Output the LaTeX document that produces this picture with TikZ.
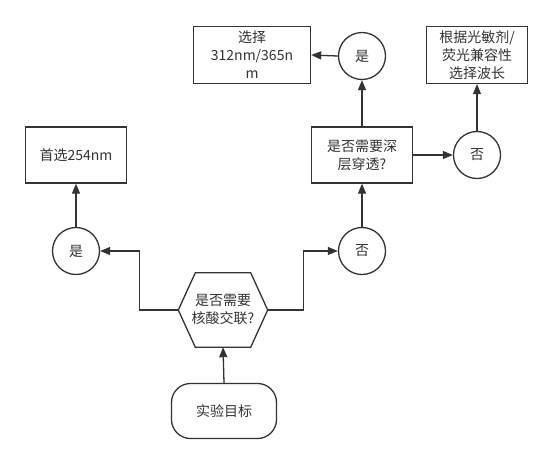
\documentclass[tikz,border=0pt]{standalone}
\usepackage{fontspec}
\newfontfamily\cjk{Noto Sans CJK SC}
\usepackage{tikz}
\usetikzlibrary{calc, positioning, arrows.meta}
\usepackage{xcolor}
\definecolor{ink}{RGB}{51, 51, 51}

\begin{document}
\begin{tikzpicture}[x=1pt, y=-1pt,
  every node/.style={font=\cjk\fontsize{14}{18}\selectfont, text=ink, align=center},
  box/.style={draw=ink, line width=1.3pt, minimum width=101pt, minimum height=56pt, inner sep=2pt},
  answer/.style={draw=ink, circle, line width=1.3pt, minimum size=47pt, inner sep=0pt},
  link/.style={draw=ink, line width=1.3pt, -{Triangle[length=10pt, width=8pt]}}]
  \useasboundingbox (0,0) rectangle (554,464);

  % --- start and first question ---
  \node[draw=ink, line width=1.3pt, rounded corners=19pt, minimum width=105pt, minimum height=55pt] (goal) at (224,411) {实验目标};
  \node[minimum width=89pt, minimum height=74pt] (crosslink) at (223,310) {是否需要\\核酸交联?};
  \draw[ink, line width=1.3pt] (crosslink.west)
    -- ($(crosslink.north west)!0.19!(crosslink.north east)$)
    -- ($(crosslink.north west)!0.81!(crosslink.north east)$)
    -- (crosslink.east)
    -- ($(crosslink.south west)!0.81!(crosslink.south east)$)
    -- ($(crosslink.south west)!0.19!(crosslink.south east)$)
    -- cycle;
  \draw[link] (goal.north) -- (crosslink.south);

  % --- yes branch ---
  \node[answer] (yesA) at (76,251) {是};
  \node[box] (uvc) at (76,155) {首选254nm};
  \draw[link] (crosslink.west) -- ++(-39,0) |- (yesA);
  \draw[link] (yesA.north) -- (uvc.south);

  % --- no branch ---
  \node[answer] (noA) at (362,251) {否};
  \node[box] (depth) at (362,155) {是否需要深\\层穿透?};
  \draw[link] (crosslink.east) -- ++(36,0) |- (noA);
  \draw[link] (noA.north) -- (depth.south);

  \node[answer] (yesB) at (362,56) {是};
  \node[box, minimum width=117pt, minimum height=57pt] (uva) at (252,55) {选择\\312nm/365n\\m};
  \draw[link] (depth.north) -- (yesB.south);
  \draw[link] (yesB.west) -- (uva.east);

  \node[answer] (noB) at (477,155) {否};
  \node[box, minimum height=57pt] (match) at (477,55) {根据光敏剂/\\荧光兼容性\\选择波长};
  \draw[link] (depth.east) -- (noB.west);
  \draw[link] (noB.north) -- (match.south);
\end{tikzpicture}
\end{document}
